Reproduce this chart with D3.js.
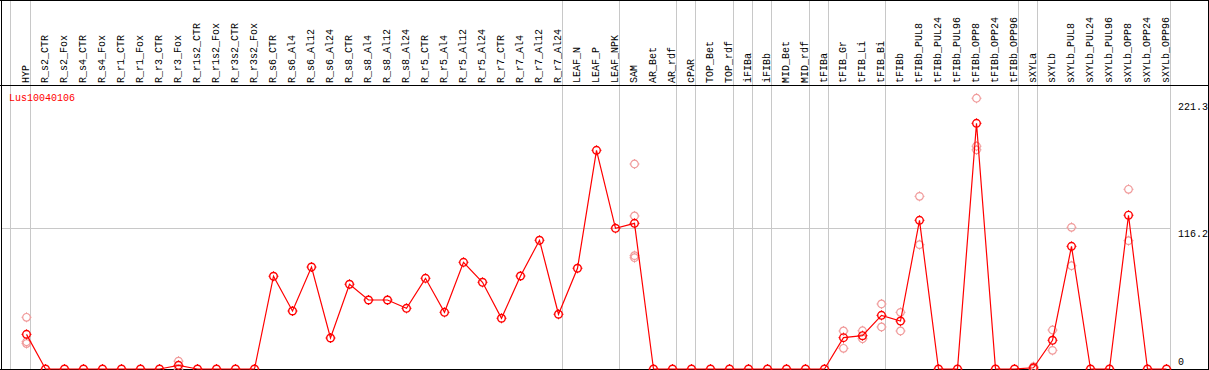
<!DOCTYPE html>
<html><head><meta charset="utf-8">
<script src="https://cdn.jsdelivr.net/npm/d3@7"></script>
<style>body{margin:0;background:#fff}svg{display:block}text{font-family:"Liberation Mono","DejaVu Sans Mono",monospace;font-size:10px}</style>
</head><body><svg id="c" width="1209" height="370"></svg>
<script>
const categories = ["HYP","R_s2_CTR","R_s2_Fox","R_s4_CTR","R_s4_Fox","R_r1_CTR","R_r1_Fox","R_r3_CTR","R_r3_Fox","R_r1s2_CTR","R_r1s2_Fox","R_r3s2_CTR","R_r3s2_Fox","R_s6_CTR","R_s6_Al4","R_s6_Al12","R_s6_Al24","R_s8_CTR","R_s8_Al4","R_s8_Al12","R_s8_Al24","R_r5_CTR","R_r5_Al4","R_r5_Al12","R_r5_Al24","R_r7_CTR","R_r7_Al4","R_r7_Al12","R_r7_Al24","LEAF_N","LEAF_P","LEAF_NPK","SAM","AR_Bet","AR_rdf","cPAR","TOP_Bet","TOP_rdf","iFIBa","iFIBb","MID_Bet","MID_rdf","tFIBa","tFIB_Gr","tFIB_Li","tFIB_Bi","tFIBb","tFIBb_PUL8","tFIBb_PUL24","tFIBb_PUL96","tFIBb_OPP8","tFIBb_OPP24","tFIBb_OPP96","sXYLa","sXYLb","sXYLb_PUL8","sXYLb_PUL24","sXYLb_PUL96","sXYLb_OPP8","sXYLb_OPP24","sXYLb_OPP96"];
const meanValues = [28.6,0,0,0,0,0,0,0,3.0,0,0,0,0,76.6,47.9,84.2,25.6,70.0,57.0,57.0,50.1,74.9,46.8,88.1,71.6,41.9,76.8,106.3,45.2,83.2,180.6,116.2,120.3,0,0,0,0,0,0,0,0,0,0,25.9,27.5,44.3,39.6,122.8,0,0,202.9,0,0,1.0,23.7,101.3,0,0,127.0,0,0];
const replicateCats = ["HYP","HYP","HYP","R_r3_Fox","R_r3_Fox","SAM","SAM","SAM","SAM","tFIB_Gr","tFIB_Gr","tFIB_Li","tFIB_Li","tFIB_Bi","tFIB_Bi","tFIBb","tFIBb","tFIBb_PUL8","tFIBb_PUL8","tFIBb_OPP8","tFIBb_OPP8","tFIBb_OPP8","sXYLa","sXYLa","sXYLb","sXYLb","sXYLb_PUL8","sXYLb_PUL8","sXYLb_OPP8","sXYLb_OPP8"];
const replicateVals = [42.7,22.5,21.0,6.5,0,169.3,126.4,93.6,91.9,31.4,17.1,31.6,25.0,53.7,34.7,46.8,31.4,142.6,102.7,223.6,184.0,181.0,2.0,0,32.2,15.4,117.0,85.3,148.4,106.0];
const groupEnds = ["HYP","R_r7_Al24","LEAF_NPK","AR_rdf","cPAR","TOP_rdf","iFIBa","iFIBb","MID_rdf","tFIBa","tFIB_Bi","tFIBb_OPP96","sXYLa","sXYLb_OPP96"];
const yTicks = [0, 116.2, 221.3];
const geneName = "Lus10040106";

const svg = d3.select("#c");
const W = 1209, H = 370, headerY = 85.5, bottomY = 369;
const x = d3.scaleBand().domain(categories).range([11.5, 11.5 + 19 * categories.length]).padding(0);
const y = d3.scaleLinear().domain([0, 116.2]).range([369, 228.3]);
const cx = c => x(c) + 15;
const grid = "#c8c8c8";

const gl = svg.append("g").attr("shape-rendering","crispEdges");
gl.append("line").attr("x1", x.range()[0] - 1).attr("x2", x.range()[0] - 1).attr("y1", 0).attr("y2", H).attr("stroke", grid);
gl.selectAll("line.sep").data(groupEnds).join("line").attr("class","sep")
  .attr("x1", d => x(d) + x.bandwidth()).attr("x2", d => x(d) + x.bandwidth())
  .attr("y1", 0).attr("y2", H).attr("stroke", grid);
gl.selectAll("line.hg").data(yTicks.filter(t => t > 0 && t < 200)).join("line").attr("class","hg")
  .attr("x1", 1).attr("x2", x.range()[1]).attr("y1", d => Math.round(y(d)) + 0.5).attr("y2", d => Math.round(y(d)) + 0.5).attr("stroke", grid);

gl.append("line").attr("x1",0).attr("x2",W).attr("y1",0.5).attr("y2",0.5).attr("stroke","#000");
gl.append("line").attr("x1",0).attr("x2",W).attr("y1",headerY).attr("y2",headerY).attr("stroke","#000");
gl.append("line").attr("x1",1.5).attr("x2",1.5).attr("y1",0).attr("y2",H).attr("stroke","#000");
gl.append("line").attr("x1",1208.5).attr("x2",1208.5).attr("y1",0).attr("y2",H).attr("stroke","#000");
gl.append("line").attr("x1",0).attr("x2",W).attr("y1",bottomY + 0.5).attr("y2",bottomY + 0.5).attr("stroke","#000");

svg.selectAll("text.cat").data(categories).join("text").attr("class","cat")
  .attr("transform", d => `translate(${cx(d) + 2},83) rotate(-90)`)
  .attr("fill","#000").text(d => d);

svg.append("text").attr("x", 9).attr("y", 100.5).attr("fill", "#ff0000").text(geneName);

svg.selectAll("text.yt").data(yTicks).join("text").attr("class","yt")
  .attr("x", 1178).attr("y", d => d === 0 ? y(d) - 4 : y(d) + 9)
  .attr("fill","#000").text(d => d);

function marker(g, color, sw) {
  g.append("circle").attr("r", 3.8).attr("fill","none").attr("stroke", color).attr("stroke-width", sw);
  g.append("path").attr("d","M0,-5V-3.8M0,3.8V5M-5,0H-3.8M3.8,0H5").attr("stroke", color).attr("stroke-width", 1);
}

const reps = replicateCats.map((c, i) => ({c, v: replicateVals[i]}));
svg.selectAll("g.rep").data(reps).join("g").attr("class","rep")
  .attr("transform", d => `translate(${cx(d.c)},${y(d.v)})`)
  .each(function(){ marker(d3.select(this), "#f09a9a", 1.2); });

const means = categories.map((c, i) => ({c, v: meanValues[i]}));
svg.append("path").datum(means)
  .attr("d", d3.line().x(d => cx(d.c)).y(d => y(d.v)))
  .attr("fill","none").attr("stroke","#ff0000").attr("stroke-width",1.2);
svg.selectAll("g.mean").data(means).join("g").attr("class","mean")
  .attr("transform", d => `translate(${cx(d.c)},${y(d.v)})`)
  .each(function(){ marker(d3.select(this), "#ff0000", 1.4); });
</script></body></html>
